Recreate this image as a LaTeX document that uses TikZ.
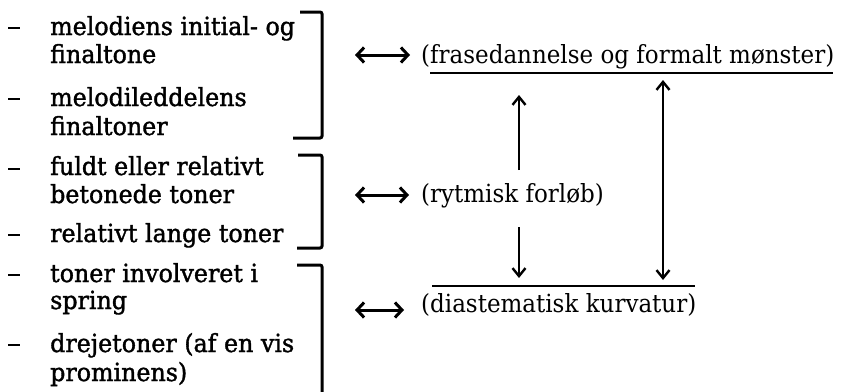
\documentclass[tikz,border=0pt]{standalone}
\usepackage{fontspec}
\setmainfont{DejaVu Serif}[FakeStretch=0.92]
\newfontfamily\leftfont[FakeBold=1.4,FakeStretch=0.95]{DejaVu Serif}
\usetikzlibrary{arrows.meta}
\begin{document}
\begin{tikzpicture}[x=1pt,y=1pt,
  lefttxt/.style={anchor=base west,inner sep=0pt,font=\leftfont\fontsize{25}{28}\selectfont},
  righttxt/.style={anchor=base west,inner sep=0pt,font=\fontsize{25}{28}\selectfont},
  dashmark/.style={line width=2.4pt},
  brack/.style={line width=3pt,rounded corners=2pt},
  dbl/.style={line width=3pt,{Straight Barb[length=7pt,width=15pt]}-{Straight Barb[length=7pt,width=15pt]}},
  varr/.style={line width=2.4pt,-{Straight Barb[length=8pt,width=13pt]}},
  vdbl/.style={line width=2.4pt,{Straight Barb[length=8pt,width=13pt]}-{Straight Barb[length=8pt,width=13pt]}},
  rulel/.style={line width=2.4pt}]
\useasboundingbox (0,0) rectangle (845,-391);
% left column
\node[lefttxt] (l1) at (50,-35) {melodiens initial- og};
\node[lefttxt] (l2) at (50,-63) {finaltone};
\node[lefttxt] (l3) at (50,-106) {melodileddelens};
\node[lefttxt] (l4) at (50,-135) {finaltoner};
\node[lefttxt] (l5) at (50,-175) {fuldt eller relativt};
\node[lefttxt] (l6) at (50,-203) {betonede toner};
\node[lefttxt] (l7) at (50,-242) {relativt lange toner};
\node[lefttxt] (l8) at (50,-282) {toner involveret i};
\node[lefttxt] (l9) at (50,-309) {spring};
\node[lefttxt] (l10) at (50,-352) {drejetoner (af en vis};
\node[lefttxt] (l11) at (50,-381) {prominens)};
% dashes
\foreach \y in {28,99,169,235,275,345} {\draw[dashmark] (8,-\y) -- (20,-\y);}
% brackets
\draw[brack] (300,-12) -- (322,-12) -- (322,-138) -- (293,-138);
\draw[brack] (298,-155) -- (322,-155) -- (322,-248) -- (297,-248);
\draw[brack] (297,-265) -- (322,-265) -- (322,-395);
% right column
\node[righttxt] (frase) at (421,-63) {(frasedannelse og formalt mønster)};
\node[righttxt] (ryt) at (421,-202) {(rytmisk forløb)};
\node[righttxt] (dia) at (421,-312) {(diastematisk kurvatur)};
\draw[rulel] (430,-73) -- (833,-73);
\draw[rulel] (432,-286) -- (695,-286);
% double arrows
\coordinate (a1) at (355,-55);
\coordinate (a2) at (355,-195);
\coordinate (a3) at (355,-310);
\draw[dbl] (a1) -- ([xshift=-11pt]a1 -| frase.west);
\draw[dbl] (a2) -- ([xshift=-12pt]a2 -| ryt.west);
\draw[dbl] (a3) -- ([xshift=-17pt]a3 -| dia.west);
% vertical arrows
\coordinate (u1) at (519,-170);
\coordinate (u2) at (519,-95);
\coordinate (d1) at (519,-227);
\coordinate (d2) at (519,-278);
\coordinate (v1) at (663,-80);
\coordinate (v2) at (663,-280);
\draw[varr] (u1) -- (u2);
\draw[varr] (d1) -- (d2);
\draw[vdbl] (v1) -- (v2);
\end{tikzpicture}
\end{document}
